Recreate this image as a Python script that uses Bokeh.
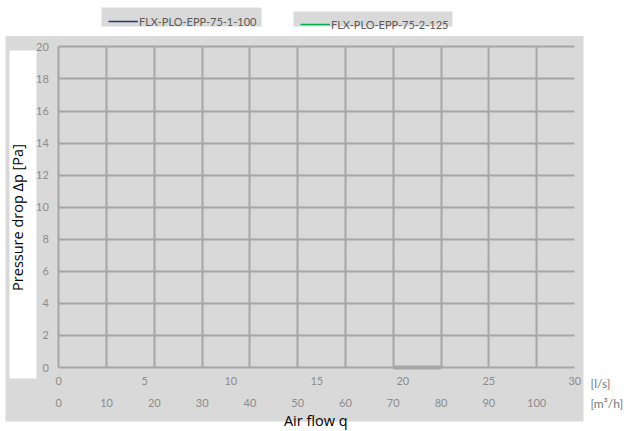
import math
from bokeh.plotting import figure
from bokeh.models import (Range1d, LinearAxis, FixedTicker, BoxAnnotation, Label,
                          Legend, LegendItem, Grid)
from bokeh.embed import file_html
from bokeh.resources import INLINE

NAN = float("nan")

# ---------------- data ----------------
flow_ls_ticks = [0, 5, 10, 15, 20, 25, 30]
flow_m3h_ticks = [0, 10, 20, 30, 40, 50, 60, 70, 80, 90, 100]
dp_ticks = [0, 2, 4, 6, 8, 10, 12, 14, 16, 18, 20]
series_names = ["FLX-PLO-EPP-75-1-100", "FLX-PLO-EPP-75-2-125"]
# the two series show no plotted points in the reference
s1_flow_ls = [NAN]
s1_dp = [NAN]
s2_flow_ls = [NAN]
s2_dp = [NAN]
bar_flow_m3h = [70, 80]
bar_dp = [0, 0]

M3H_PER_LS = 3.6
LS_MAX = 30
DP_MAX = 20

# ---------------- style ----------------
PANEL = "#d9d9d9"
GRID = "#a6a6a6"
TICK = "#8c8c8c"
UNIT = "#767676"
LEG_TXT = "#595959"
COLORS = ["#1f3a6e", "#00b050"]
FONT = "Lato"

# frame covers the whole canvas; data x=0 at 58 px, 17.2 px per l/s; y=0 at 367 px, 16.03 px per Pa
X0, XR = -3.3895, 33.122
Y0, Y1 = -3.9925, 22.895

p = figure(width=628, height=431, output_backend="svg", toolbar_location=None,
           x_range=Range1d(X0, XR), y_range=Range1d(Y0, Y1),
           min_border=0, min_border_left=0, min_border_right=0, min_border_top=0,
           min_border_bottom=0, background_fill_color="white",
           border_fill_color="white", outline_line_color=None)
p.extra_x_ranges = {"m3h": Range1d(X0 * M3H_PER_LS, XR * M3H_PER_LS)}

# grey panel behind everything
p.add_layout(BoxAnnotation(left=-3.099, right=30.506, top=20.68, bottom=-3.369,
                           fill_color=PANEL, fill_alpha=1, line_color=None,
                           level="image"))
# white box behind y label
p.add_layout(BoxAnnotation(left=-2.866, right=-1.297, top=19.775, bottom=-0.686,
                           fill_color="white", fill_alpha=1, line_color=None))

# grids
vx = [m / M3H_PER_LS for m in flow_m3h_ticks]
p.xgrid.visible = False
p.ygrid.visible = False
try:
    vgrid = Grid(dimension=0, ticker=FixedTicker(ticks=vx), bounds=(-1, LS_MAX + 1),
                 cross_bounds=(0, DP_MAX), grid_line_color=GRID, grid_line_width=2)
    hgrid = Grid(dimension=1, ticker=FixedTicker(ticks=dp_ticks), bounds=(-1, DP_MAX + 1),
                 cross_bounds=(0, LS_MAX), grid_line_color=GRID, grid_line_width=2)
    p.add_layout(vgrid, "center")
    p.add_layout(hgrid, "center")
except AttributeError:
    p.segment(x0=vx, y0=[0] * len(vx), x1=vx, y1=[DP_MAX] * len(vx),
              line_color=GRID, line_width=2, level="underlay")
    p.segment(x0=[0] * len(dp_ticks), y0=dp_ticks, x1=[LS_MAX] * len(dp_ticks),
              y1=dp_ticks, line_color=GRID, line_width=2, level="underlay")


def style_axis(ax, standoff):
    ax.axis_line_color = None
    ax.major_tick_line_color = None
    ax.minor_tick_line_color = None
    ax.major_tick_out = 0
    ax.major_tick_in = 0
    ax.minor_tick_out = 0
    ax.minor_tick_in = 0
    ax.major_label_standoff = standoff
    ax.major_label_text_font = FONT
    ax.major_label_text_font_size = "11px"
    ax.major_label_text_color = TICK
    ax.fixed_location = 0


xa = p.xaxis[0]
xa.ticker = FixedTicker(ticks=flow_ls_ticks)
style_axis(xa, 9)

xa2 = LinearAxis(x_range_name="m3h", ticker=FixedTicker(ticks=flow_m3h_ticks))
style_axis(xa2, 31)
p.add_layout(xa2, "below")

ya = p.yaxis[0]
ya.ticker = FixedTicker(ticks=dp_ticks)
style_axis(ya, 10)

# data series
r1 = p.line(s1_flow_ls, s1_dp, line_color=COLORS[0], line_width=1.5)
r2 = p.line(s2_flow_ls, s2_dp, line_color=COLORS[1], line_width=1.5)
p.line(bar_flow_m3h, bar_dp, x_range_name="m3h", line_color=GRID, line_width=4)

# legend boxes
p.add_layout(BoxAnnotation(left=2.483, right=11.785, top=22.458, bottom=21.273,
                           fill_color=PANEL, fill_alpha=1, line_color=None))
p.add_layout(BoxAnnotation(left=13.645, right=22.889, top=22.208, bottom=21.273,
                           fill_color=PANEL, fill_alpha=1, line_color=None))


def make_legend(name, r, loc):
    return Legend(items=[LegendItem(label=name, renderers=[r])], location=loc,
                  background_fill_alpha=0, border_line_color=None, padding=0,
                  margin=0, spacing=0, glyph_width=30, glyph_height=24,
                  label_height=14, label_standoff=1, label_text_font=FONT,
                  label_text_font_size="11px", label_text_color=LEG_TXT)


p.add_layout(make_legend(series_names[0], r1, (108, 398)))
p.add_layout(make_legend(series_names[1], r2, (300, 395)))

# texts
p.add_layout(Label(x=-2.40, y=9.357, text="Pressure drop \u0394p [Pa]", angle=math.pi / 2,
                   text_align="center", text_baseline="middle", text_font="Open Sans",
                   text_font_size="14.5px", text_color="black"))
p.add_layout(Label(x=14.94, y=-3.306, text="Air flow q", text_align="center",
                   text_baseline="middle", text_font="Open Sans",
                   text_font_size="14.5px", text_color="black"))
p.add_layout(Label(x=30.913, y=-0.998, text="[l/s]", text_align="left",
                   text_baseline="middle", text_font=FONT,
                   text_font_size="12px", text_color=UNIT))
p.add_layout(Label(x=30.913, y=-2.246, text="[m\u00b3/h]", text_align="left",
                   text_baseline="middle", text_font=FONT,
                   text_font_size="12px", text_color=UNIT))

open("out.html", "w").write(file_html(p, INLINE))
